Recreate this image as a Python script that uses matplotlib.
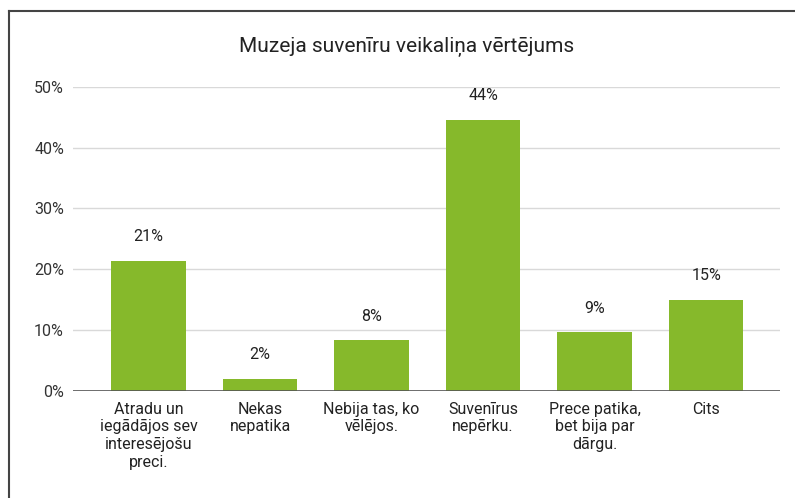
import matplotlib.pyplot as plt
from matplotlib.lines import Line2D

kategorijas = ["Atradu un\niegādājos sev\ninteresējošu\npreci.",
               "Nekas\nnepatika",
               "Nebija tas, ko\nvēlējos.",
               "Suvenīrus\nnepērku.",
               "Prece patika,\nbet bija par\ndārgu.",
               "Cits"]
vertibas = [21.4, 2.0, 8.3, 44.6, 9.6, 15.0]
yticks = [0, 10, 20, 30, 40, 50]

plt.rcParams['font.family'] = ['Roboto', 'DejaVu Sans']

fig = plt.figure(figsize=(7.95, 4.98), dpi=100)
ax = fig.add_axes([0.0918, 0.2155, 0.889, 0.6098])

x = range(len(vertibas))
ax.bar(x, vertibas, width=0.67, color='#86b92b', zorder=3)

for xi, v in zip(x, vertibas):
    ax.annotate("{}%".format(int(v)), (xi, v), xytext=(0, 24), textcoords='offset pixels',
                ha='center', va='center', fontsize=11.5, color='#222222')

ax.set_xlim(-0.677, 5.66)
ax.set_ylim(0, 50)
ax.set_yticks(yticks)
ax.set_yticklabels(["{}%".format(t) for t in yticks], fontsize=11.5, color='#333333')
ax.set_xticks(list(x))
ax.set_xticklabels(kategorijas, fontsize=11.5, color='#222222', linespacing=1.22, va='top')
ax.tick_params(length=0)
ax.tick_params(axis='y', pad=6.5)
ax.tick_params(axis='x', pad=8)

ax.grid(axis='y', color='#d9d9d9', linewidth=1, zorder=0)
for s in ax.spines.values():
    s.set_visible(False)
ax.axhline(0, color='#555555', linewidth=1.2, zorder=4)

fig.text(0.512, 0.905, "Muzeja suvenīru veikaliņa vērtējums", ha='center', va='center',
         fontsize=15, color='#222222')

# rāmis
fig.add_artist(Line2D([9/795, 9/795], [0, 1 - 11/498], transform=fig.transFigure, color='#444444', linewidth=1.5))
fig.add_artist(Line2D([9/795, 1], [1 - 11/498, 1 - 11/498], transform=fig.transFigure, color='#444444', linewidth=1.5))

plt.savefig("out.png", dpi=100)
